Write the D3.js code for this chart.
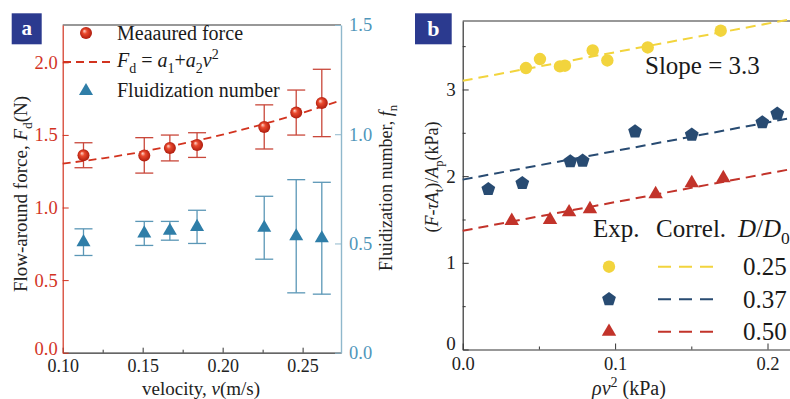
<!DOCTYPE html>
<html><head><meta charset="utf-8">
<script src="https://cdn.jsdelivr.net/npm/d3@7"></script>
<style>
html,body{margin:0;padding:0;background:#fff;}
svg{display:block;font-family:"Liberation Serif","Times New Roman",serif;}
</style></head>
<body>
<svg id="c" width="790" height="399"></svg>
<script>
// ---------- Panel a data ----------
const velocity = [0.113, 0.151, 0.167, 0.184, 0.226, 0.246, 0.262];
const force = [1.36, 1.359, 1.41, 1.43, 1.555, 1.654, 1.72];
const forceErr = [0.086, 0.122, 0.089, 0.085, 0.152, 0.155, 0.232];
const fluidNumber = [0.506, 0.546, 0.558, 0.576, 0.572, 0.533, 0.524];
const fluidErr = [0.061, 0.055, 0.043, 0.076, 0.144, 0.259, 0.256];
const fitV = [0.10, 0.125, 0.15, 0.175, 0.20, 0.225, 0.25, 0.274];
const fitF = [1.302, 1.339, 1.385, 1.440, 1.502, 1.573, 1.653, 1.737];
const aLeftTicks = [0, 0.5, 1.0, 1.5, 2.0];
const aRightTicks = [0, 0.5, 1.0, 1.5];
const aXTicks = [0.10, 0.15, 0.20, 0.25];
const aXMinor = [0.125, 0.175, 0.225];

// ---------- Panel b data ----------
const rhoV2_025 = [0.0415, 0.0507, 0.0638, 0.0671, 0.0853, 0.0949, 0.1214, 0.1693];
const stress_025 = [3.247, 3.351, 3.266, 3.274, 3.450, 3.335, 3.485, 3.678];
const rhoV2_037 = [0.0168, 0.0391, 0.0706, 0.0787, 0.1131, 0.1503, 0.1966, 0.2064];
const stress_037 = [1.850, 1.919, 2.169, 2.177, 2.515, 2.477, 2.619, 2.719];
const rhoV2_050 = [0.0322, 0.0573, 0.0698, 0.0835, 0.1266, 0.1503, 0.1710];
const stress_050 = [1.484, 1.495, 1.584, 1.619, 1.792, 1.919, 1.977];
const correlX = [0, 0.22];
const correl_025 = [3.10, 3.826];
const correl_037 = [1.96, 2.686];
const correl_050 = [1.37, 2.096];
const ratioLabels = ["0.25", "0.37", "0.50"];
const bYTicks = [0, 1, 2, 3];
const bYMinor = [0.5, 1.5, 2.5, 3.5];
const bXTicks = [0, 0.1, 0.2];
const bXMinor = [0.05, 0.15];

const RED = "#d2331f", BLUE = "#2f7ea8", RAXIS = "#8fb8cc", RLAB = "#4f96ba";
const YEL = "#f2d43d", NAVY = "#284b72", BRED = "#c2332a";
const FONT = 18;

const svg = d3.select("#c");
const defs = svg.append("defs");
const g = defs.append("radialGradient").attr("id","ball").attr("cx","50%").attr("cy","50%").attr("r","55%").attr("fx","35%").attr("fy","32%");
g.append("stop").attr("offset","0%").attr("stop-color","#ffd9cf");
g.append("stop").attr("offset","35%").attr("stop-color","#ea4a2e");
g.append("stop").attr("offset","100%").attr("stop-color","#a8170a");

function rich(sel, segs, size) {
  let cur = 0;
  segs.forEach(s => {
    const shift = s.sub ? 0.28 * size : s.sup ? -0.4 * size : 0;
    const ts = sel.append("tspan").text(s.t);
    if (shift - cur !== 0) ts.attr("dy", shift - cur);
    cur = shift;
    if (s.i) ts.attr("font-style", "italic");
    if (s.sub || s.sup) ts.attr("font-size", size * 0.7);
  });
}

// ================= Panel a =================
const xA = d3.scaleLinear().domain([0.10, 0.274]).range([62.7, 341]);
const yL = d3.scaleLinear().domain([0, 2.257]).range([352.7, 25]);
const yR = d3.scaleLinear().domain([0, 1.5]).range([352.7, 25]);

const pa = svg.append("g");
pa.append("line").attr("x1", xA.range()[0]).attr("x2", xA.range()[1]).attr("y1", 25).attr("y2", 25).attr("stroke", "#333").attr("stroke-width", 1.2);

const axB = pa.append("g").attr("transform", `translate(0,${yL(0)})`)
  .call(d3.axisBottom(xA).tickValues(aXTicks).tickFormat(d3.format(".2f")).tickSize(-5).tickPadding(7).tickSizeOuter(0));
axB.select(".domain").attr("stroke", "#333").attr("stroke-width", 1.2);
axB.selectAll(".tick line").attr("stroke", "#333");
axB.selectAll("text").attr("font-size", FONT).attr("fill", "#222").attr("font-family", "Liberation Serif");
const axBm = pa.append("g").attr("transform", `translate(0,${yL(0)})`)
  .call(d3.axisBottom(xA).tickValues(aXMinor).tickFormat("").tickSize(-3).tickSizeOuter(0));
axBm.select(".domain").remove();
axBm.selectAll(".tick line").attr("stroke", "#333");

const axL = pa.append("g").attr("transform", `translate(${xA.range()[0]},0)`)
  .call(d3.axisLeft(yL).tickValues(aLeftTicks).tickFormat(d3.format(".1f")).tickSize(-6).tickPadding(5).tickSizeOuter(0));
axL.select(".domain").attr("stroke", RED).attr("stroke-width", 1.2);
axL.selectAll(".tick line").attr("stroke", RED);
axL.selectAll("text").attr("font-size", FONT + 0.5).attr("fill", RED).attr("font-family", "Liberation Serif")
  .attr("dy", d => d === 0 ? "0.1em" : "0.32em");

const axR = pa.append("g").attr("transform", `translate(${xA.range()[1]},0)`)
  .call(d3.axisRight(yR).tickValues(aRightTicks).tickFormat(d3.format(".1f")).tickSize(-6).tickPadding(8).tickSizeOuter(0));
axR.select(".domain").attr("stroke", RAXIS).attr("stroke-width", 1.4);
axR.selectAll(".tick line").attr("stroke", RAXIS);
axR.selectAll("text").attr("font-size", FONT + 0.5).attr("fill", RLAB).attr("font-family", "Liberation Serif");

const fitPts = fitV.map((v, i) => [v, fitF[i]]);
pa.append("path").datum(fitPts)
  .attr("d", d3.line().x(d => xA(d[0])).y(d => yL(d[1])).curve(d3.curveNatural))
  .attr("fill", "none").attr("stroke", RED).attr("stroke-width", 1.8).attr("stroke-dasharray", "8,5");

const capW = 9;
velocity.forEach((v, i) => {
  const x = xA(v), y1 = yR(fluidNumber[i] - fluidErr[i]), y2 = yR(fluidNumber[i] + fluidErr[i]);
  const eb = pa.append("g").attr("stroke", "#5b97b6").attr("stroke-width", 1.3);
  eb.append("line").attr("x1", x).attr("x2", x).attr("y1", y1).attr("y2", y2);
  eb.append("line").attr("x1", x - capW).attr("x2", x + capW).attr("y1", y1).attr("y2", y1);
  eb.append("line").attr("x1", x - capW).attr("x2", x + capW).attr("y1", y2).attr("y2", y2);
});
pa.selectAll(".tri").data(velocity).enter().append("path")
  .attr("d", d3.symbol(d3.symbolTriangle, 85))
  .attr("transform", (v, i) => `translate(${xA(v)},${yR(fluidNumber[i])})`)
  .attr("fill", BLUE);

velocity.forEach((v, i) => {
  const x = xA(v), y1 = yL(force[i] - forceErr[i]), y2 = yL(force[i] + forceErr[i]);
  const eb = pa.append("g").attr("stroke", "#c9473a").attr("stroke-width", 1.3);
  eb.append("line").attr("x1", x).attr("x2", x).attr("y1", y1).attr("y2", y2);
  eb.append("line").attr("x1", x - capW).attr("x2", x + capW).attr("y1", y1).attr("y2", y1);
  eb.append("line").attr("x1", x - capW).attr("x2", x + capW).attr("y1", y2).attr("y2", y2);
});
pa.selectAll(".ball").data(velocity).enter().append("circle")
  .attr("cx", v => xA(v)).attr("cy", (v, i) => yL(force[i])).attr("r", 6)
  .attr("fill", "url(#ball)");

// legend a
pa.append("circle").attr("cx", 86).attr("cy", 33).attr("r", 6).attr("fill", "url(#ball)");
pa.append("text").attr("x", 117).attr("y", 40).attr("font-size", 20).attr("fill", "#1a1a1a").text("Meaaured force");
pa.append("line").attr("x1", 63).attr("x2", 110).attr("y1", 62).attr("y2", 62)
  .attr("stroke", RED).attr("stroke-width", 1.8).attr("stroke-dasharray", "8,5");
rich(pa.append("text").attr("x", 117).attr("y", 67).attr("font-size", 20).attr("fill", "#1a1a1a"),
  [{t:"F",i:1},{t:"d",sub:1},{t:" = "},{t:"a",i:1},{t:"1",sub:1},{t:"+"},{t:"a",i:1},{t:"2",sub:1},{t:"v",i:1},{t:"2",sup:1}], 20);
pa.append("path").attr("d", d3.symbol(d3.symbolTriangle, 85)).attr("transform", "translate(86,91)").attr("fill", BLUE);
pa.append("text").attr("x", 117).attr("y", 97).attr("font-size", 20).attr("fill", "#1a1a1a").text("Fluidization number");

// axis titles a
rich(pa.append("text").attr("transform", "translate(27,194) rotate(-90)").attr("text-anchor", "middle").attr("font-size", 19).attr("fill", "#222"),
  [{t:"Flow-around force, "},{t:"F",i:1},{t:"d",sub:1},{t:"(N)"}], 19);
rich(pa.append("text").attr("transform", "translate(392,188) rotate(-90)").attr("text-anchor", "middle").attr("font-size", 18).attr("fill", "#222"),
  [{t:"Fluidization number, "},{t:"f",i:1},{t:"n",sub:1}], 18);
rich(pa.append("text").attr("x", 201).attr("y", 395).attr("text-anchor", "middle").attr("font-size", 19).attr("fill", "#222"),
  [{t:"velocity, "},{t:"v",i:1},{t:"(m/s)"}], 19);

pa.append("rect").attr("x", 11.7).attr("y", 13.3).attr("width", 30).attr("height", 31).attr("fill", "#2b3a8f");
pa.append("text").attr("x", 26.7).attr("y", 35).attr("text-anchor", "middle").attr("font-size", 21).attr("font-weight", "bold").attr("fill", "#fff").text("a");

// ================= Panel b =================
const xB = d3.scaleLinear().domain([0, 0.22]).range([462.7, 462.7 + 0.22 * 1524]);
const yB = d3.scaleLinear().domain([0, 3.79]).range([349.5, 21]);
const pb = svg.append("g");

pb.append("line").attr("x1", xB(0)).attr("x2", xB(0.22)).attr("y1", yB(3.79)).attr("y2", yB(3.79)).attr("stroke", "#333").attr("stroke-width", 1.2);

const bxa = pb.append("g").attr("transform", `translate(0,${yB(0)})`)
  .call(d3.axisBottom(xB).tickValues(bXTicks).tickFormat(d3.format(".1f")).tickSize(-6).tickPadding(7).tickSizeOuter(0));
bxa.select(".domain").attr("stroke", "#333").attr("stroke-width", 1.2);
bxa.selectAll(".tick line").attr("stroke", "#333");
bxa.selectAll("text").attr("font-size", 18.5).attr("fill", "#222").attr("font-family", "Liberation Serif");
const bxm = pb.append("g").attr("transform", `translate(0,${yB(0)})`)
  .call(d3.axisBottom(xB).tickValues(bXMinor).tickFormat("").tickSize(-3).tickSizeOuter(0));
bxm.select(".domain").remove();
bxm.selectAll(".tick line").attr("stroke", "#333");

const bya = pb.append("g").attr("transform", `translate(${xB(0)},0)`)
  .call(d3.axisLeft(yB).tickValues(bYTicks).tickFormat(d3.format("d")).tickSize(-6).tickPadding(7).tickSizeOuter(0));
bya.select(".domain").attr("stroke", "#333").attr("stroke-width", 1.2);
bya.selectAll(".tick line").attr("stroke", "#333");
bya.selectAll("text").attr("font-size", 19).attr("fill", "#222").attr("font-family", "Liberation Serif")
  .attr("dy", d => d === 0 ? "0.0em" : "0.32em");
const bym = pb.append("g").attr("transform", `translate(${xB(0)},0)`)
  .call(d3.axisLeft(yB).tickValues(bYMinor).tickFormat("").tickSize(-3).tickSizeOuter(0));
bym.select(".domain").remove();
bym.selectAll(".tick line").attr("stroke", "#333");

const lineB = d3.line().x(d => xB(d[0])).y(d => yB(d[1]));
[[correl_025, YEL], [correl_037, NAVY], [correl_050, BRED]].forEach(([ys, c]) => {
  pb.append("path").datum(correlX.map((x, i) => [x, ys[i]]))
    .attr("d", lineB).attr("fill", "none").attr("stroke", c).attr("stroke-width", 2).attr("stroke-dasharray", "10,6");
});

const pentagon = {
  draw(ctx, size) {
    const r = Math.sqrt(size / 2.378);
    for (let k = 0; k < 5; k++) {
      const a = -Math.PI / 2 + k * 2 * Math.PI / 5;
      const px = r * Math.cos(a), py = r * Math.sin(a);
      if (k === 0) ctx.moveTo(px, py); else ctx.lineTo(px, py);
    }
    ctx.closePath();
  }
};

pb.selectAll(".c25").data(rhoV2_025).enter().append("circle")
  .attr("cx", d => xB(d)).attr("cy", (d, i) => yB(stress_025[i])).attr("r", 6.2).attr("fill", YEL);
pb.selectAll(".p37").data(rhoV2_037).enter().append("path")
  .attr("d", d3.symbol(pentagon, 125))
  .attr("transform", (d, i) => `translate(${xB(d)},${yB(stress_037[i])})`).attr("fill", NAVY);
pb.selectAll(".t50").data(rhoV2_050).enter().append("path")
  .attr("d", d3.symbol(d3.symbolTriangle, 90))
  .attr("transform", (d, i) => `translate(${xB(d)},${yB(stress_050[i])})`).attr("fill", BRED);

pb.append("text").attr("x", 645).attr("y", 74).attr("font-size", 25).attr("fill", "#1a1a1a").text("Slope = 3.3");

// legend b
const LB = 25;
pb.append("text").attr("x", 593).attr("y", 237).attr("font-size", LB).attr("fill", "#1a1a1a").text("Exp.");
pb.append("text").attr("x", 656).attr("y", 237).attr("font-size", LB).attr("fill", "#1a1a1a").text("Correl.");
rich(pb.append("text").attr("x", 738).attr("y", 237).attr("font-size", LB).attr("fill", "#1a1a1a"),
  [{t:"D",i:1},{t:"/"},{t:"D",i:1},{t:"0",sub:1}], LB);
const legRows = [266.7, 299.3, 331.7];
const legCols = [YEL, NAVY, BRED];
pb.append("circle").attr("cx", 609).attr("cy", legRows[0]).attr("r", 6.2).attr("fill", YEL);
pb.append("path").attr("d", d3.symbol(pentagon, 125)).attr("transform", `translate(609,${legRows[1]})`).attr("fill", NAVY);
pb.append("path").attr("d", d3.symbol(d3.symbolTriangle, 90)).attr("transform", `translate(609,${legRows[2]})`).attr("fill", BRED);
legRows.forEach((y, i) => {
  pb.append("line").attr("x1", 658).attr("x2", 716).attr("y1", y).attr("y2", y)
    .attr("stroke", legCols[i]).attr("stroke-width", 2).attr("stroke-dasharray", "13,8");
  pb.append("text").attr("x", 743).attr("y", y + 8.5).attr("font-size", LB).attr("fill", "#1a1a1a").text(ratioLabels[i]);
});

rich(pb.append("text").attr("transform", "translate(438,177) rotate(-90)").attr("text-anchor", "middle").attr("font-size", 18).attr("fill", "#222"),
  [{t:"("},{t:"F",i:1},{t:"-"},{t:"τA",i:1},{t:"t",sub:1},{t:")/"},{t:"A",i:1},{t:"p",sub:1},{t:"(kPa)"}], 18);
rich(pb.append("text").attr("x", 629).attr("y", 395).attr("text-anchor", "middle").attr("font-size", 20).attr("fill", "#222"),
  [{t:"ρv",i:1},{t:"2",sup:1},{t:" (kPa)"}], 20);

pb.append("rect").attr("x", 415).attr("y", 13.3).attr("width", 36.7).attr("height", 31).attr("fill", "#2b3a8f");
pb.append("text").attr("x", 433.3).attr("y", 35.5).attr("text-anchor", "middle").attr("font-size", 22).attr("font-weight", "bold").attr("fill", "#fff").text("b");
</script>
</body></html>
